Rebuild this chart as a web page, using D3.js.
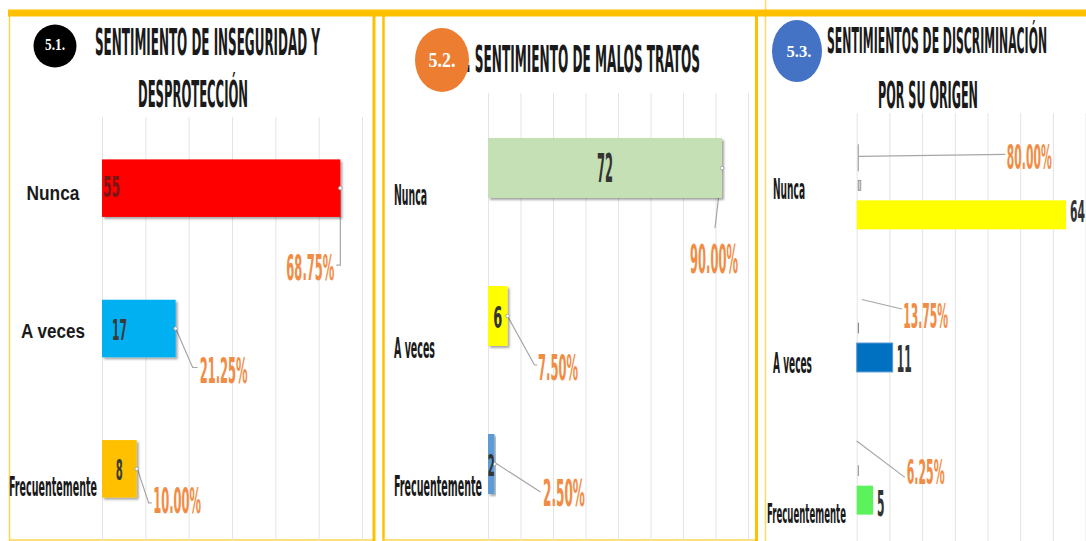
<!DOCTYPE html>
<html>
<head>
<meta charset="utf-8">
<script src="https://cdn.jsdelivr.net/npm/d3@7"></script>
<style>
  html, body { margin: 0; padding: 0; background: #fff; overflow: hidden; }
  svg { display: block; }
</style>
</head>
<body>
<svg id="chart" width="1086" height="541"></svg>
<script>
// ---- data ----
const categories = ["Nunca", "A veces", "Frecuentemente"];

const inseguridadCounts = [55, 17, 8];
const inseguridadPct = [68.75, 21.25, 10.00];

const malosTratosCounts = [72, 6, 2];
const malosTratosPct = [90.00, 7.50, 2.50];

const discriminacionCounts = [64, 11, 5];
const discriminacionPct = [80.00, 13.75, 6.25];

const ticks60 = [0, 10, 20, 30, 40, 50, 60];
const ticks80 = [0, 10, 20, 30, 40, 50, 60, 70, 80];

const badges = ["5.1.", "5.2.", "5.3."];
const titleLines1 = ["SENTIMIENTO DE INSEGURIDAD Y", "DESPROTECCIÓN"];
const titleLines2 = [". SENTIMIENTO DE MALOS TRATOS"];
const titleLines3 = ["SENTIMIENTOS DE DISCRIMINACIÓN", "POR SU ORIGEN"];

// ---- styles ----
const NARROW = "'Liberation Sans Narrow', 'DejaVu Sans Condensed', 'Arial Narrow', sans-serif";
const WIDE = "'Liberation Sans', Arial, sans-serif";
const SERIF = "'Liberation Serif', 'Times New Roman', serif";
const NARROW_SCALE = 1.22;   // tall condensed lettering
const GOLD = "#FFC000";
const PCT_COLOR = "#F28C44";
const LEADER = "#A6A6A6";
const GRID = "#E4E4E4";
const fmtPct = v => v.toFixed(2) + "%";

const svg = d3.select("#chart");

const defs = svg.append("defs");
defs.append("filter").attr("id", "shadow")
  .attr("x", "-10%").attr("y", "-10%").attr("width", "130%").attr("height", "140%")
  .append("feDropShadow")
  .attr("dx", 2).attr("dy", 2).attr("stdDeviation", 1.3)
  .attr("flood-color", "#000").attr("flood-opacity", 0.35);

// Text squeezed horizontally to a given width around its anchor point.
function txt(g, o) {
  const fam = o.family || NARROW;
  const size = fam === NARROW ? o.size * NARROW_SCALE : o.size;
  const t = g.append("text")
    .attr("x", 0).attr("y", 0)
    .attr("font-family", fam)
    .attr("font-size", size)
    .attr("font-weight", o.weight || "bold")
    .attr("fill", o.fill || "#1a1a1a")
    .attr("text-anchor", o.anchor || "start")
    .text(o.text);
  let sx = 1;
  if (o.width) {
    const natural = t.node().getComputedTextLength();
    if (natural > 0) sx = o.width / natural;
  }
  t.attr("transform", `translate(${o.x},${o.y}) scale(${sx},1)`);
  return t;
}

function grid(x, ticks, top) {
  svg.append("g")
    .attr("transform", `translate(0,${top})`)
    .call(d3.axisBottom(x).tickValues(ticks).tickSize(541 - top).tickFormat(""))
    .call(g => g.select(".domain").remove())
    .selectAll("line").attr("stroke", GRID).attr("stroke-width", 1);
}

function leader(points) {
  svg.append("path")
    .attr("d", d3.line()(points))
    .attr("fill", "none").attr("stroke", LEADER).attr("stroke-width", 1.2);
}

function marker(px, py) {
  svg.append("circle").attr("cx", px).attr("cy", py).attr("r", 1.8)
    .attr("fill", "#fff").attr("stroke", "#999").attr("stroke-width", 0.8);
}

// ---- frames ----
const frame = svg.append("g");
frame.append("line").attr("x1", 9.5).attr("x2", 9.5).attr("y1", 12).attr("y2", 541)
  .attr("stroke", "#FFD54F").attr("stroke-width", 1.5);
frame.append("line").attr("x1", 9).attr("x2", 375).attr("y1", 540).attr("y2", 540)
  .attr("stroke", "#FFD54F").attr("stroke-width", 1.5);
frame.append("line").attr("x1", 374).attr("x2", 374).attr("y1", 12).attr("y2", 541)
  .attr("stroke", GOLD).attr("stroke-width", 3);
frame.append("line").attr("x1", 383.5).attr("x2", 383.5).attr("y1", 12).attr("y2", 541)
  .attr("stroke", GOLD).attr("stroke-width", 2.5);
frame.append("line").attr("x1", 383).attr("x2", 758).attr("y1", 540).attr("y2", 540)
  .attr("stroke", "#FFD54F").attr("stroke-width", 1.5);
frame.append("line").attr("x1", 756.5).attr("x2", 756.5).attr("y1", 12).attr("y2", 541)
  .attr("stroke", GOLD).attr("stroke-width", 3);
frame.append("line").attr("x1", 765.5).attr("x2", 765.5).attr("y1", 0).attr("y2", 541)
  .attr("stroke", "#FFD966").attr("stroke-width", 1.5);
frame.append("rect").attr("x", 8).attr("y", 9.5).attr("width", 1078).attr("height", 7)
  .attr("fill", GOLD);

// ---- titles ----
function badge(cx, cy, rx, ry, color, label, tx, ty, size, width) {
  svg.append("ellipse").attr("cx", cx).attr("cy", cy).attr("rx", rx).attr("ry", ry).attr("fill", color);
  txt(svg, { x: tx, y: ty, text: label, size: size, family: SERIF, fill: "#fff", anchor: "middle", width: width });
}

txt(svg, { x: 95, y: 55, text: titleLines1[0], size: 30, width: 225 });
txt(svg, { x: 138, y: 107, text: titleLines1[1], size: 30, width: 110 });
badge(55, 46, 21.5, 21.5, "#000", badges[0], 55, 50, 16, 20);

txt(svg, { x: 466, y: 72, text: titleLines2[0], size: 30, width: 234 });
badge(442, 60, 27, 32, "#ED7D31", badges[1], 442, 67, 20, 27);

txt(svg, { x: 827, y: 53, text: titleLines3[0], size: 29, width: 220 });
txt(svg, { x: 878, y: 108, text: titleLines3[1], size: 30, width: 100 });
badge(797, 51, 25, 31, "#4472C4", badges[2], 799, 57, 17, 25);

// ---- panel 5.1 ----
(function () {
  const x = d3.scaleLinear().domain([0, d3.max(ticks60)]).range([102, 362]);
  const y = d3.scaleBand().domain(categories).range([118, 539]).paddingInner(0.59).paddingOuter(0.295);
  const colors = ["#FF0000", "#00B0F0", "#FFC000"];
  grid(x, ticks60, 117);

  const cy = c => y(c) + y.bandwidth() / 2;

  // leader lines (under bars)
  const lead = [
    [[0, 0], [0, 77], [-4, 77]],
    [[0, 0], [17, 39], [22, 39]],
    [[0, -2], [12, 34], [15, 34]]
  ];
  categories.forEach((c, i) => {
    const ex = x(inseguridadCounts[i]), ey = cy(c);
    leader(lead[i].map(p => [ex + p[0], ey + p[1]]));
  });

  svg.append("g").selectAll("rect").data(inseguridadCounts).join("rect")
    .attr("x", x(0))
    .attr("y", (d, i) => y(categories[i]))
    .attr("width", d => x(d) - x(0))
    .attr("height", y.bandwidth())
    .attr("fill", (d, i) => colors[i])
    .attr("filter", "url(#shadow)");

  categories.forEach((c, i) => marker(x(inseguridadCounts[i]), cy(c)));

  // category labels
  const catDy = [12, 9.5, 27], catSize = [21, 21, 22], catW = [53, 64, 88], catFam = [WIDE, WIDE, NARROW];
  categories.forEach((c, i) => {
    txt(svg, { x: 53, y: cy(c) + catDy[i], text: c, size: catSize[i], family: catFam[i], anchor: "middle", width: catW[i] });
  });

  // value labels
  const vals = [
    { x: x(0) + 1, dy: 8.5, anchor: "start", w: 17, fill: "#7a1616" },
    { x: x(0) + 10, dy: 11.5, anchor: "start", w: 15, fill: "#3a3a3a" },
    { x: (x(0) + x(inseguridadCounts[2])) / 2, dy: 11, anchor: "middle", w: 7, fill: "#3a3a3a" }
  ];
  categories.forEach((c, i) => {
    txt(svg, { x: vals[i].x, y: cy(c) + vals[i].dy, text: String(inseguridadCounts[i]), size: 23,
      anchor: vals[i].anchor, width: vals[i].w, fill: vals[i].fill });
  });

  // percentage labels
  const pl = [
    { dx: -6, dy: 92, anchor: "end" },
    { dx: 24, dy: 54.5, anchor: "start" },
    { dx: 16.5, dy: 44, anchor: "start" }
  ];
  categories.forEach((c, i) => {
    txt(svg, { x: x(inseguridadCounts[i]) + pl[i].dx, y: cy(c) + pl[i].dy, text: fmtPct(inseguridadPct[i]),
      size: 29, anchor: pl[i].anchor, width: 48, fill: PCT_COLOR });
  });
})();

// ---- panel 5.2 ----
(function () {
  const x = d3.scaleLinear().domain([0, d3.max(ticks80)]).range([488, 748]);
  const y = d3.scaleBand().domain(categories).range([94, 538]).paddingInner(0.595).paddingOuter(0.2975);
  const colors = ["#C5E0B4", "#FFFF00", "#5B9BD5"];
  grid(x, ticks80, 93);

  const cy = c => y(c) + y.bandwidth() / 2;

  const lead = [
    [[0, 0], [-7, 60]],
    [[0, 0], [27, 49], [30, 49]],
    [[1, -1], [46, 28]]
  ];
  categories.forEach((c, i) => {
    const ex = x(malosTratosCounts[i]), ey = cy(c);
    leader(lead[i].map(p => [ex + p[0], ey + p[1]]));
  });

  svg.append("g").selectAll("rect").data(malosTratosCounts).join("rect")
    .attr("x", x(0))
    .attr("y", (d, i) => y(categories[i]))
    .attr("width", d => x(d) - x(0))
    .attr("height", y.bandwidth())
    .attr("fill", (d, i) => colors[i])
    .attr("filter", "url(#shadow)");

  categories.forEach((c, i) => marker(x(malosTratosCounts[i]), cy(c)));

  const catDy = [37, 42, 32], catW = [33, 41, 88];
  categories.forEach((c, i) => {
    txt(svg, { x: 394, y: cy(c) + catDy[i], text: c, size: 23, width: catW[i] });
  });

  const valDy = [13.5, 12, 12], valSize = [32, 25, 25], valW = [16, 9, 7];
  categories.forEach((c, i) => {
    txt(svg, { x: (x(0) + x(malosTratosCounts[i])) / 2, y: cy(c) + valDy[i], text: String(malosTratosCounts[i]),
      size: valSize[i], anchor: "middle", width: valW[i], fill: "#333" });
  });

  const pl = [
    { dx: -8, dy: 105, anchor: "middle", size: 32, w: 48 },
    { dx: 30.5, dy: 64, anchor: "start", size: 29, w: 40 },
    { dx: 48.5, dy: 42, anchor: "start", size: 31, w: 42 }
  ];
  categories.forEach((c, i) => {
    txt(svg, { x: x(malosTratosCounts[i]) + pl[i].dx, y: cy(c) + pl[i].dy, text: fmtPct(malosTratosPct[i]),
      size: pl[i].size, anchor: pl[i].anchor, width: pl[i].w, fill: PCT_COLOR });
  });
})();

// ---- panel 5.3 ----
(function () {
  const x = d3.scaleLinear().domain([0, d3.max(ticks80)]).range([856.7, 1118.3]);
  const y = d3.scaleBand().domain(categories).range([129, 557]).paddingInner(0.58).paddingOuter(0.29);
  const sub = d3.scaleBand().domain(["pct", "count"]).range([0, y.bandwidth()]);
  const colors = ["#FFFF00", "#0070C0", "#5CF25C"];
  grid(x, ticks80, 113);

  const cPct = c => y(c) + sub("pct") + sub.bandwidth() / 2;
  const cCnt = c => y(c) + sub("count") + sub.bandwidth() / 2;
  const share = discriminacionPct.map(v => v / 100);

  // leader lines from the percentage series
  const lead = [
    [[[-1, -41], [-1, -14]], [[-1, -29], [146, -31]]],
    [[[4.7, -28.5], [44.7, -19]]],
    [[[-0.2, -29.6], [48, 6.7]]]
  ];
  categories.forEach((c, i) => {
    const ex = x(share[i]), ey = cPct(c);
    lead[i].forEach(seg => leader(seg.map(p => [ex + p[0], ey + p[1]])));
  });

  // percentage series (share of total, on the same axis)
  svg.append("g").selectAll("rect").data(share).join("rect")
    .attr("x", x(0) + 1.5)
    .attr("y", (d, i) => cPct(categories[i]) - 5)
    .attr("width", d => x(d) - x(0))
    .attr("height", 10)
    .attr("fill", "#d0d0d0")
    .attr("stroke", "#8c8c8c").attr("stroke-width", 0.8);

  // count series
  svg.append("g").selectAll("rect").data(discriminacionCounts).join("rect")
    .attr("x", x(0))
    .attr("y", (d, i) => y(categories[i]) + sub("count"))
    .attr("width", d => x(d) - x(0))
    .attr("height", sub.bandwidth() - 1)
    .attr("fill", (d, i) => colors[i])
    .attr("stroke", (d, i) => i === 1 ? "#5B9BD5" : "none")
    .attr("stroke-width", 1);

  const catX = [773, 773, 767], catDy = [-1, 29.5, 37], catW = [32, 39, 79], catSize = [23, 23, 22];
  categories.forEach((c, i) => {
    const gc = y(c) + y.bandwidth() / 2;
    txt(svg, { x: catX[i], y: gc + catDy[i], text: c, size: catSize[i], width: catW[i] });
  });

  const valDy = [7, 14.5, 15], valSize = [25, 31, 29], valW = [15, 15, 7.5];
  categories.forEach((c, i) => {
    txt(svg, { x: x(discriminacionCounts[i]) + 4, y: cCnt(c) + valDy[i], text: String(discriminacionCounts[i]),
      size: valSize[i], width: valW[i], fill: "#333" });
  });

  const pl = [
    { dx: 147.5, dy: -16, w: 45 },
    { dx: 46, dy: -0.5, w: 45 },
    { dx: 49.8, dy: 13.7, w: 38 }
  ];
  categories.forEach((c, i) => {
    txt(svg, { x: x(share[i]) + pl[i].dx, y: cPct(c) + pl[i].dy, text: fmtPct(discriminacionPct[i]),
      size: 27, width: pl[i].w, fill: PCT_COLOR });
  });
})();
</script>
</body>
</html>
